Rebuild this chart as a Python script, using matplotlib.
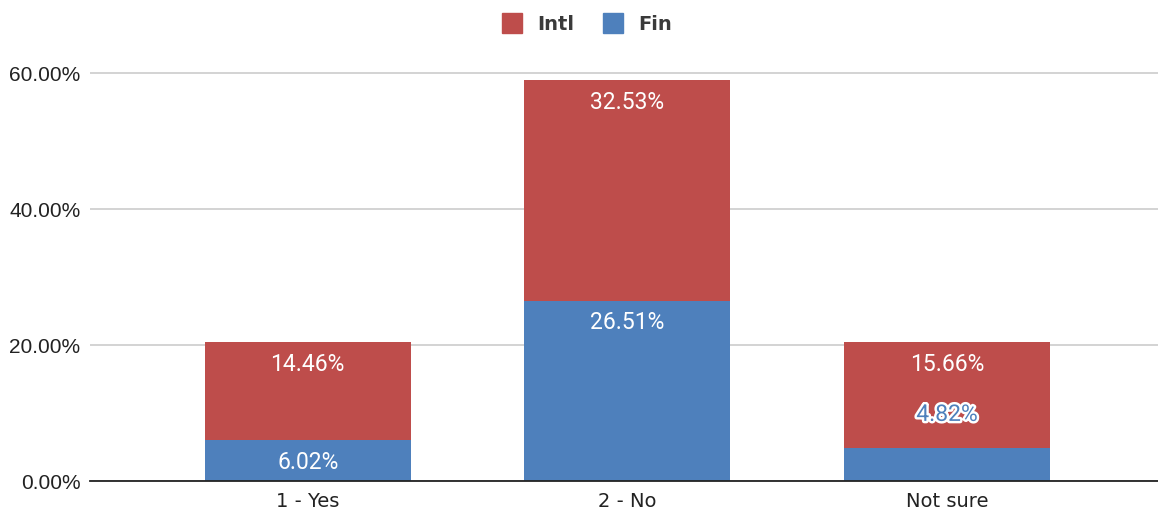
import matplotlib.pyplot as plt
from matplotlib.lines import Line2D
import matplotlib.patheffects as pe

categories = ["1 - Yes", "2 - No", "Not sure"]
fin = [6.02, 26.51, 4.82]
intl = [14.46, 32.53, 15.66]
y_ticks = [0, 20, 40, 60]

RED = "#be4d4b"
BLUE = "#4e80bc"

fig = plt.figure(figsize=(11.58, 5.13), dpi=100)
ax = fig.add_axes([0.078, 0.062, 0.922, 0.822])

x = list(range(len(categories)))
ax.bar(x, fin, width=0.645, color=BLUE, zorder=2)
ax.bar(x, intl, width=0.645, bottom=fin, color=RED, zorder=2)

label_font = dict(family="Roboto", fontsize=16.5)
for i in x:
    top = fin[i] + intl[i]
    ax.text(i, top - 3.3, f"{intl[i]:.2f}%", ha="center", va="center",
            color="white", **label_font)
    if fin[i] > 5:
        ax.text(i, fin[i] - 3.2, f"{fin[i]:.2f}%", ha="center", va="center",
                color="white", **label_font)
    else:
        # segment too thin, put label above it with a halo
        ax.text(i, fin[i] + 5.0, f"{fin[i]:.2f}%", ha="center", va="center",
                color=BLUE, path_effects=[pe.withStroke(linewidth=3.5, foreground="white")],
                **label_font)

ax.set_xlim(-0.68, 2.66)
ax.set_ylim(0, 62)
ax.set_xticks(x)
ax.set_xticklabels(categories, fontsize=14, family="DejaVu Sans", color="#222222")
ax.set_yticks(y_ticks)
ax.set_yticklabels([f"{v:.2f}%" for v in y_ticks], fontsize=15,
                   family="Liberation Sans", color="#222222")
ax.tick_params(axis="x", length=0, pad=8)
ax.tick_params(axis="y", length=0, pad=7)
ax.grid(axis="y", color="#cccccc", linewidth=1.2, zorder=0)
for side in ["top", "right", "left"]:
    ax.spines[side].set_visible(False)
ax.spines["bottom"].set_color("#222222")
ax.spines["bottom"].set_linewidth(1.3)
ax.spines["bottom"].set_zorder(3)

handles = [Line2D([], [], marker="s", linestyle="", markersize=15, color=RED),
           Line2D([], [], marker="s", linestyle="", markersize=15, color=BLUE)]
fig.legend(handles, ["Intl", "Fin"], loc="center", bbox_to_anchor=(0.503, 0.953),
           ncol=2, frameon=False,
           prop=dict(family="DejaVu Sans", size=14, weight="bold"),
           handletextpad=0.3, columnspacing=1.0, labelcolor="#3a3a3a")

fig.savefig("out.png", dpi=100)
